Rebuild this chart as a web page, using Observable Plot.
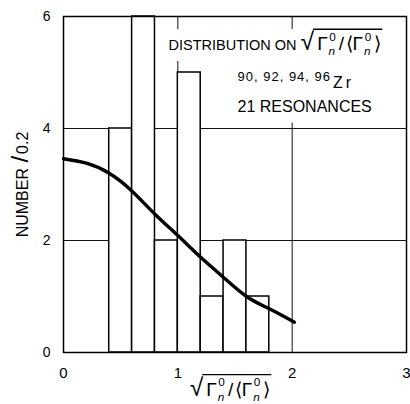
<!DOCTYPE html>
<html><head><meta charset="utf-8">
<script src="https://cdn.jsdelivr.net/npm/d3@7"></script>
<script src="https://cdn.jsdelivr.net/npm/@observablehq/plot@0.6"></script>
<style>body{margin:0;background:#fff} svg{display:block}</style>
</head><body>
<script>
// Histogram bins (width 0.2) and counts
const binStart = [0.4, 0.6, 0.8, 1.0, 1.2, 1.4, 1.6];
const binEnd   = [0.6, 0.8, 1.0, 1.2, 1.4, 1.6, 1.8];
const counts   = [4, 6, 2, 5, 1, 2, 1];
// Theoretical curve
const curveX = [0, 0.2, 0.4, 0.6, 0.8, 1.0, 1.2, 1.4, 1.6, 1.8, 2.02];
const curveY = [3.46, 3.38, 3.2, 2.88, 2.47, 2.09, 1.70, 1.34, 1.0, 0.78, 0.54];
// Axes and grid
const xTicks = [0, 1, 2, 3];
const yTicks = [0, 2, 4, 6];
const gridX = [1, 2];
const gridY = [2, 4];
// Texts
const yLabel = "NUMBER /0.2";
const xLabel = "√Γn0/⟨Γn0⟩";
const note1 = "DISTRIBUTION ON ";
const note2a = "90, 92, 94, 96";
const note2b = "Zr";
const note3 = "21 RESONANCES";

const bars = binStart.map((s, i) => ({x1: s, x2: binEnd[i], y: counts[i]}));
const curve = curveX.map((x, i) => ({x, y: curveY[i]}));
const font = "'Liberation Sans', Arial, Helvetica, sans-serif";

function notes(style) {
  return [
    Plot.text([note1 + xLabel], {x: 0.918, y: 5.393, textAnchor: "start", lineAnchor: "bottom", fontSize: 14.5, ...style}),
    Plot.text([note2a + " " + note2b], {x: 1.522, y: 4.857, textAnchor: "start", lineAnchor: "bottom", fontSize: 13, ...style}),
    Plot.text([note3], {x: 1.522, y: 4.286, textAnchor: "start", lineAnchor: "bottom", fontSize: 16, ...style})
  ];
}

const chart = Plot.plot({
  width: 410, height: 404,
  marginLeft: 63, marginRight: 4, marginTop: 16, marginBottom: 52,
  style: {fontFamily: font, background: "#fff", color: "#000"},
  x: {domain: [0, 3]},
  y: {domain: [0, 6]},
  marks: [
    Plot.ruleY(gridY, {stroke: "#111", strokeWidth: 1}),
    Plot.ruleX(gridX, {stroke: "#111", strokeWidth: 1}),
    Plot.rectY(bars, {x1: "x1", x2: "x2", y: "y", fill: "white", stroke: "black", strokeWidth: 1.5}),
    Plot.line(curve, {x: "x", y: "y", stroke: "black", strokeWidth: 3.4, curve: "natural"}),
    Plot.frame({stroke: "black", strokeWidth: 1.5}),
    Plot.axisX(xTicks, {tickSize: 0, tickPadding: 15, fontSize: 15, label: null, tickFormat: d => String(d)}),
    Plot.axisY(yTicks, {tickSize: 0, tickPadding: 13, fontSize: 14, label: null, tickFormat: d => String(d)}),
    Plot.text([yLabel], {frameAnchor: "left", dx: -41, rotate: -90, fontSize: 16, textAnchor: "middle", lineAnchor: "middle"}),
    Plot.text([xLabel], {frameAnchor: "bottom", dx: -5, dy: 38, fontSize: 17, textAnchor: "middle", lineAnchor: "middle"}),
    ...notes({fill: "white", stroke: "white", strokeWidth: 22}),
    ...notes({fill: "black"})
  ]
});
document.body.appendChild(chart);

const NS = "http://www.w3.org/2000/svg";
function tsp(parent, str, attrs) {
  const t = document.createElementNS(NS, "tspan");
  t.textContent = str;
  for (const k in (attrs || {})) t.setAttribute(k, attrs[k]);
  parent.appendChild(t);
  return t;
}
function findTexts(str) {
  return [...chart.querySelectorAll("text")].filter(t => t.textContent === str);
}
function isHalo(el) {
  const g = el.closest("g");
  return (el.getAttribute("stroke") || (g && g.getAttribute("stroke"))) === "white";
}
function buildRadical(el, prefix, fs, gap) {
  const halo = isHalo(el);
  el.textContent = "";
  if (prefix) tsp(el, prefix);
  const idx = prefix ? prefix.length : 0;
  const small = fs * 0.62, radFs = fs * 1.3;
  tsp(el, "√", {"font-size": radFs});
  const sub = () => {
    tsp(el, "n", {"font-size": small, "font-style": "italic", dy: 0.25 * fs, dx: 1});
    tsp(el, "0", {"font-size": small, dx: -(0.5 * small), dy: -0.75 * fs});
  };
  tsp(el, "Γ", {"font-size": fs, dx: gap});
  sub();
  tsp(el, "/", {"font-size": fs, dx: gap, dy: 0.5 * fs});
  tsp(el, "⟨", {"font-size": fs, dx: gap * 0.5});
  tsp(el, "Γ", {"font-size": fs});
  sub();
  tsp(el, "⟩", {"font-size": fs, dx: gap, dy: 0.5 * fs});
  const e = el.getExtentOfChar(idx);
  const s = el.getStartPositionOfChar(idx);
  const bb = el.getBBox();
  const ln = document.createElementNS(NS, "line");
  const yy = s.y - 0.86 * radFs;
  ln.setAttribute("x1", e.x + e.width - 1);
  ln.setAttribute("x2", bb.x + bb.width + 1);
  ln.setAttribute("y1", yy);
  ln.setAttribute("y2", yy);
  ln.setAttribute("stroke", halo ? "white" : "black");
  ln.setAttribute("stroke-width", halo ? 22 : 1.3);
  if (el.getAttribute("transform")) ln.setAttribute("transform", el.getAttribute("transform"));
  el.parentNode.appendChild(ln);
}
// y label with large slash
for (const el of findTexts(yLabel)) {
  el.textContent = "";
  tsp(el, "NUMBER ");
  tsp(el, "/", {"font-size": 24, dx: 1});
  tsp(el, "0.2", {dx: 2});
}
// x label
for (const el of findTexts(xLabel)) buildRadical(el, "", 19, 3);
// note line 1
for (const el of findTexts(note1 + xLabel)) buildRadical(el, note1, 19, 3);
// note line 2
for (const el of findTexts(note2a + " " + note2b)) {
  el.textContent = "";
  tsp(el, note2a, {"font-size": 13, "letter-spacing": 1});
  tsp(el, note2b, {"font-size": 16, dy: 7, dx: 2, "letter-spacing": 3});
}
</script>
</body></html>
